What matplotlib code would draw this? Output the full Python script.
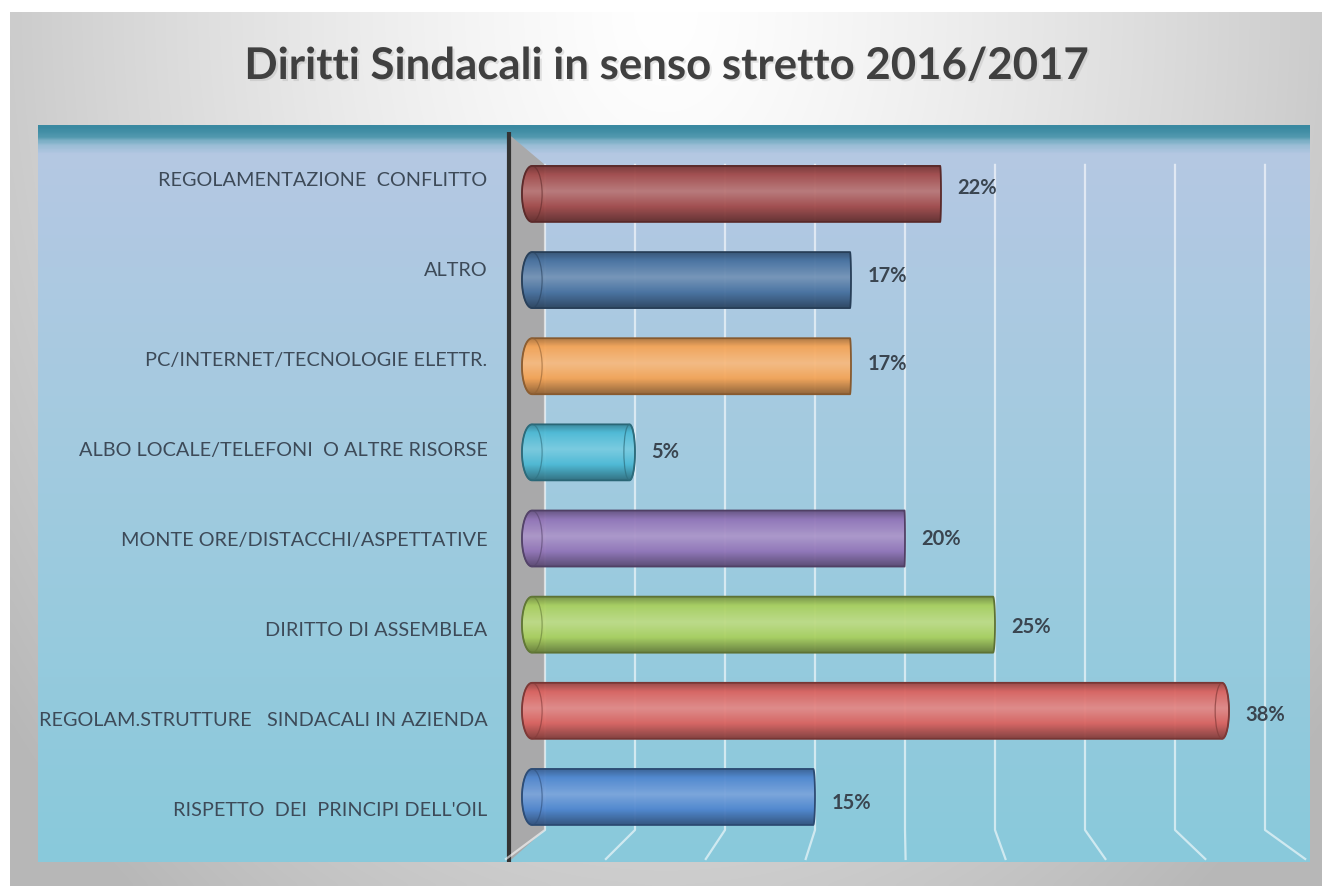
import numpy as np
import matplotlib
matplotlib.use('Agg')
import matplotlib.pyplot as plt
from matplotlib.colors import LinearSegmentedColormap, to_rgb
from matplotlib.patches import Polygon, Ellipse
import matplotlib.patheffects as pe

plt.rcParams['font.family'] = ['Lato', 'DejaVu Sans']

# data
title = 'Diritti Sindacali in senso stretto 2016/2017'
categories = ['REGOLAMENTAZIONE  CONFLITTO',
              'ALTRO',
              'PC/INTERNET/TECNOLOGIE ELETTR.',
              'ALBO LOCALE/TELEFONI  O ALTRE RISORSE',
              'MONTE ORE/DISTACCHI/ASPETTATIVE',
              'DIRITTO DI ASSEMBLEA',
              'REGOLAM.STRUTTURE   SINDACALI IN AZIENDA',
              "RISPETTO  DEI  PRINCIPI DELL'OIL"]
values = [22, 17, 17, 5, 20, 25, 38, 15]
bar_colors = ['#a24a4a', '#46709f', '#f5a456', '#4cbad6',
              '#9174b8', '#a9d05e', '#da625f', '#4f86cf']

W, H = 1333, 891
fig = plt.figure(figsize=(W / 100, H / 100), dpi=100)
fig.patch.set_facecolor('white')

# background (outer gray frame + blue panel) in pixel coords
bg = fig.add_axes([0, 0, 1, 1])
bg.set_xlim(0, W)
bg.set_ylim(H, 0)
bg.axis('off')

yy, xx = np.mgrid[0:1:200j, 0:1:300j]
d = np.sqrt(((xx - 0.5) / 0.5) ** 2 + (yy / 1.0) ** 2)
lev = 1 - 0.2 * np.clip(d, 0, 1.3) ** 1.3
frame = np.dstack([lev, lev, lev])
bg.imshow(frame, extent=(10, 1322, 886, 12), aspect='auto', interpolation='bicubic')

panel_cmap = LinearSegmentedColormap.from_list('panel', [
    (0.0, '#3a89a1'), (0.012, '#4f97ad'), (0.022, '#8fb9d0'),
    (0.035, '#b5c8e3'), (0.5, '#a0cbdf'), (1.0, '#89c9db')])
grad = np.linspace(0, 1, 400).reshape(-1, 1)
bg.imshow(grad, cmap=panel_cmap, extent=(38, 1310, 862, 125), aspect='auto',
          interpolation='bicubic')

# chart axes over the plot area
ax = fig.add_axes([509 / W, 1 - 862 / H, (1310 - 509) / W, (862 - 125) / H])
ax.set_xlim(-2.0, 42.5)
ax.set_ylim(7.755, -0.80)
ax.axis('off')
ax.patch.set_alpha(0)

y_top, y_bot, y_front = -0.337, 7.383, 7.72

# side wall
wall = Polygon([(-2.0, -0.69), (0, y_top), (0, y_bot), (-2.0, 7.75)],
               closed=True, facecolor='#a9a9aa', edgecolor='none', zorder=1)
ax.add_patch(wall)
ax.plot([-2.0, -2.0], [-0.72, 7.75], color='#333333', lw=3, zorder=2,
        clip_on=False, solid_capstyle='butt')

# gridlines with perspective foot
for g in range(0, 45, 5):
    off = (g - 19.7) * 0.11
    ax.plot([g, g, g + off], [y_top, y_bot, y_front], color='white', alpha=0.6,
            lw=1.6, zorder=2, clip_on=False)


def shade(c, f):
    r = np.array(to_rgb(c))
    return tuple(r * f)


def tint(c, f):
    r = np.array(to_rgb(c))
    return tuple(r + (1 - r) * f)


h = 0.65
cx = -0.72
a = 0.56
for i, (v, c) in enumerate(zip(values, bar_colors)):
    ar = max(0.03, 0.021 * abs(v - 19.7))
    xe = v - ar
    top, bot = i - h / 2, i + h / 2
    th_r = np.linspace(np.pi / 2, -np.pi / 2, 40)
    th_l = np.linspace(-np.pi / 2, -3 * np.pi / 2, 40)
    pts = np.vstack([
        np.column_stack([xe + ar * np.cos(th_r), i - h / 2 * np.sin(th_r)]),
        np.column_stack([cx + a * np.cos(th_l), i - h / 2 * np.sin(th_l)]),
    ])
    outline = Polygon(pts, closed=True, facecolor='none',
                      edgecolor=shade(c, 0.55), lw=1.3, zorder=5)
    ax.add_patch(outline)
    cmap = LinearSegmentedColormap.from_list('cyl%d' % i, [
        (0.0, shade(c, 0.72)), (0.15, to_rgb(c)), (0.45, tint(c, 0.25)),
        (0.72, to_rgb(c)), (1.0, shade(c, 0.6))])
    im = ax.imshow(grad, cmap=cmap, extent=(cx - a, v, bot, top), aspect='auto',
                   interpolation='bicubic', zorder=4, alpha=0.95)
    im.set_clip_path(outline)
    # end faces
    ax.add_patch(Ellipse((cx, i), 2 * a, h, facecolor='none',
                         edgecolor=shade(c, 0.6), lw=0.9, alpha=0.6, zorder=5))
    if ar > 0.15:
        ax.add_patch(Ellipse((xe, i), 2 * ar, h, facecolor='none',
                             edgecolor=shade(c, 0.6), lw=0.9, alpha=0.7, zorder=5))
    # value label
    ax.text(v + 0.9, i + (i - 3.5) * 0.02, '%d%%' % v, ha='left', va='center',
            fontsize=14.5, fontweight='bold', color='#3a4550', zorder=6)
    # category label
    ax.text(-3.2, i + (i - 3.5) * 0.045, categories[i], ha='right', va='center',
            fontsize=14.3, color='#3d4a58', clip_on=False, zorder=6)

fig.text(0.5, 1 - 66 / H, title, ha='center', va='center', fontsize=31.5,
         fontweight='bold', color='#404040',
         path_effects=[pe.withSimplePatchShadow(offset=(1.5, -1.5), shadow_rgbFace='#999999', alpha=0.25)])

fig.savefig('out.png', dpi=100)
